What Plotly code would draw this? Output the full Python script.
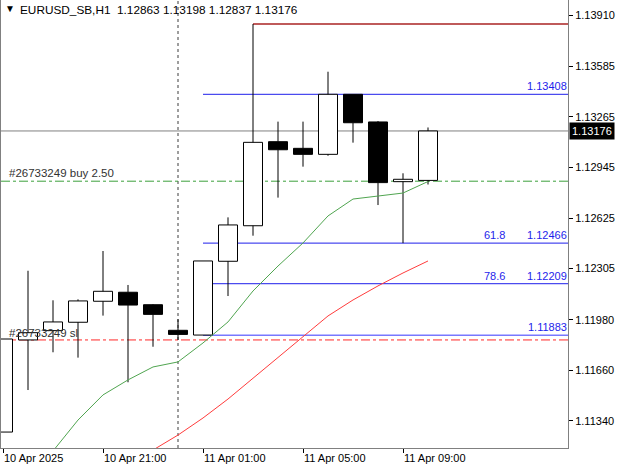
import plotly.graph_objects as go

# ---------------- data ----------------
times = ["10 Apr 17:00", "10 Apr 18:00", "10 Apr 19:00", "10 Apr 20:00", "10 Apr 21:00",
         "10 Apr 22:00", "10 Apr 23:00", "11 Apr 00:00", "11 Apr 01:00", "11 Apr 02:00",
         "11 Apr 03:00", "11 Apr 04:00", "11 Apr 05:00", "11 Apr 06:00", "11 Apr 07:00",
         "11 Apr 08:00", "11 Apr 09:00", "11 Apr 10:00"]
opens = [1.11270, 1.11853, 1.11912, 1.11965, 1.12098, 1.12155, 1.12076, 1.11914, 1.11884,
         1.12351, 1.12576, 1.13108, 1.13066, 1.13028, 1.13408, 1.13233, 1.12855, 1.12863]
highs = [1.11859, 1.12291, 1.12104, 1.12110, 1.12416, 1.12201, 1.12080, 1.11984, 1.12353,
         1.12629, 1.13853, 1.13235, 1.13235, 1.13551, 1.13408, 1.13239, 1.12908, 1.13198]
lows = [1.11270, 1.11536, 1.11775, 1.11741, 1.12007, 1.11585, 1.11810, 1.11853, 1.11884,
        1.12131, 1.12513, 1.12754, 1.12950, 1.13019, 1.13102, 1.12707, 1.12466, 1.12837]
closes = [1.11859, 1.11899, 1.11967, 1.12100, 1.12161, 1.12074, 1.12015, 1.11888, 1.12353,
          1.12581, 1.13104, 1.13057, 1.13028, 1.13408, 1.13228, 1.12849, 1.12870, 1.13176]

ma_green = [None, 1.10954, 1.11150, 1.11346, 1.11505, 1.11600, 1.11682, 1.11714, 1.11834,
            1.11967, 1.12163, 1.12321, 1.12467, 1.12638, 1.12745, 1.12764, 1.12783, 1.12856]
ma_red = [None, None, None, None, None, 1.11043, 1.11156, 1.11251, 1.11359, 1.11479,
          1.11612, 1.11745, 1.11878, 1.12005, 1.12106, 1.12195, 1.12277, 1.12353]

xtick_times = ["10 Apr 17:00", "10 Apr 21:00", "11 Apr 01:00", "11 Apr 05:00", "11 Apr 09:00"]
xtick_labels = ["10 Apr 2025", "10 Apr 21:00", "11 Apr 01:00", "11 Apr 05:00", "11 Apr 09:00"]
ytick_values = [1.13910, 1.13585, 1.13265, 1.12945, 1.12625, 1.12305, 1.11980, 1.11660, 1.11340]

fib_start_time = "11 Apr 01:00"
fib_prices = [1.13408, 1.12466, 1.12209, 1.11883]
fib_labels = ["", "61.8", "78.6", ""]
high_line_time = "11 Apr 03:00"
high_line_price = 1.13853
day_separator_time = "11 Apr 00:00"
current_price = 1.13176
buy_price = 1.12858
sl_price = 1.11853
buy_text = "#26733249 buy 2.50"
sl_text = "#26733249 sl"
title_symbol = "EURUSD_SB,H1"
title_values = ["1.12863", "1.13198", "1.12837", "1.13176"]

# ---------------- figure ----------------
FONT = "Tahoma, 'Liberation Sans', Arial, sans-serif"
idx = list(range(len(times)))
x_range = [-0.08, 22.6]
y_range = [1.11169, 1.14005]

body_base = [min(o, c) for o, c in zip(opens, closes)]
body_h = [abs(c - o) for o, c in zip(opens, closes)]
body_col = ["white" if c >= o else "black" for o, c in zip(opens, closes)]

fig = go.Figure()
fig.add_trace(go.Bar(x=idx, y=body_h, base=body_base, width=0.76,
                     marker=dict(color=body_col, line=dict(color="black", width=1)),
                     hoverinfo="skip"))

wx, wy = [], []
for i, o, h, l, c in zip(idx, opens, highs, lows, closes):
    top, bot = max(o, c), min(o, c)
    if h > top:
        wx += [i, i, None]; wy += [h, top, None]
    if l < bot:
        wx += [i, i, None]; wy += [bot, l, None]
fig.add_trace(go.Scatter(x=wx, y=wy, mode="lines", line=dict(color="black", width=1),
                         hoverinfo="skip"))

fig.add_trace(go.Scatter(x=idx, y=ma_green, mode="lines",
                         line=dict(color="rgb(80,165,80)", width=1), hoverinfo="skip"))
fig.add_trace(go.Scatter(x=idx, y=ma_red, mode="lines",
                         line=dict(color="rgb(255,60,60)", width=1), hoverinfo="skip"))

shapes = []
shapes.append(dict(type="line", xref="x", yref="y", x0=x_range[0], x1=x_range[1],
                   y0=current_price, y1=current_price, layer="below",
                   line=dict(color="rgb(128,128,128)", width=1)))
shapes.append(dict(type="line", xref="x", yref="y", x0=x_range[0], x1=x_range[1],
                   y0=buy_price, y1=buy_price, layer="below",
                   line=dict(color="rgb(60,160,60)", width=1, dash="dashdot")))
shapes.append(dict(type="line", xref="x", yref="y", x0=x_range[0], x1=x_range[1],
                   y0=sl_price, y1=sl_price, layer="below",
                   line=dict(color="rgb(255,40,40)", width=1, dash="dashdot")))
fs = times.index(fib_start_time)
for k, p in enumerate(fib_prices):
    col = "rgb(120,120,255)" if k == len(fib_prices) - 1 else "rgb(30,30,235)"
    wd = 1.5 if k == len(fib_prices) - 1 else 1
    shapes.append(dict(type="line", xref="x", yref="y", x0=fs, x1=x_range[1],
                       y0=p, y1=p, layer="below", line=dict(color=col, width=wd)))
hs = times.index(high_line_time)
shapes.append(dict(type="line", xref="x", yref="y", x0=hs, x1=x_range[1],
                   y0=high_line_price, y1=high_line_price, layer="below",
                   line=dict(color="rgb(170,35,35)", width=1.5)))
ds = times.index(day_separator_time)
shapes.append(dict(type="line", xref="x", yref="paper", x0=ds, x1=ds, y0=0, y1=1,
                   layer="below", line=dict(color="rgb(60,60,60)", width=1, dash="dot")))

annotations = []
for p, lab in zip(fib_prices, fib_labels):
    annotations.append(dict(xref="paper", yref="y", x=1, y=p, xanchor="right", yanchor="bottom",
                            text=f"{p:.5f}", showarrow=False, borderpad=0, yshift=1,
                            font=dict(family=FONT, size=11, color="rgb(30,30,235)")))
    if lab:
        annotations.append(dict(xref="x", yref="y", x=20.1, y=p, xanchor="right",
                                yanchor="bottom", text=lab, showarrow=False, borderpad=0,
                                yshift=1,
                                font=dict(family=FONT, size=11, color="rgb(30,30,235)")))
annotations.append(dict(xref="paper", yref="y", x=0.012, y=buy_price, xanchor="left",
                        yanchor="bottom", text=buy_text, showarrow=False, borderpad=0, yshift=1,
                        font=dict(family=FONT, size=11.5, color="rgb(50,50,50)")))
annotations.append(dict(xref="paper", yref="y", x=0.012, y=sl_price, xanchor="left",
                        yanchor="bottom", text=sl_text, showarrow=False, borderpad=0, yshift=0,
                        font=dict(family=FONT, size=11.5, color="rgb(50,50,50)")))
annotations.append(dict(xref="paper", yref="paper", x=0.006, y=0.996, xanchor="left",
                        yanchor="top", text="▼", showarrow=False, borderpad=0,
                        font=dict(family=FONT, size=10, color="black")))
annotations.append(dict(xref="paper", yref="paper", x=0.031, y=0.995, xanchor="left",
                        yanchor="top",
                        text=title_symbol + "&nbsp;&nbsp;" + "&nbsp;".join(title_values),
                        showarrow=False, borderpad=0,
                        font=dict(family=FONT, size=11.8, color="black")))
annotations.append(dict(xref="paper", yref="y", x=1, y=current_price, xanchor="left",
                        yanchor="middle", text=f"{current_price:.5f}", showarrow=False,
                        bgcolor="black", borderpad=2, xshift=1,
                        font=dict(family=FONT, size=11, color="white")))

fig.update_layout(
    width=625, height=469,
    margin=dict(l=1, r=57, t=0, b=21),
    paper_bgcolor="white", plot_bgcolor="white",
    showlegend=False, barmode="overlay",
    shapes=shapes, annotations=annotations,
    font=dict(family=FONT, size=11, color="black"),
    xaxis=dict(range=x_range, tickvals=[times.index(t) for t in xtick_times],
               ticktext=xtick_labels, ticks="outside", ticklen=4, tickcolor="black",
               ticklabelposition="outside right",
               showline=True, linecolor="rgb(128,128,128)", linewidth=1, mirror=True,
               showgrid=False, zeroline=False, fixedrange=True,
               tickfont=dict(family=FONT, size=11, color="black")),
    yaxis=dict(range=y_range, side="right", tickvals=ytick_values,
               ticktext=[f"{v:.5f}" for v in ytick_values], ticks="outside", ticklen=4,
               tickcolor="black", showline=True, linecolor="rgb(128,128,128)", linewidth=1,
               mirror=True, showgrid=False, zeroline=False, fixedrange=True,
               tickfont=dict(family=FONT, size=11, color="black")),
)

fig.write_html("out.html")
